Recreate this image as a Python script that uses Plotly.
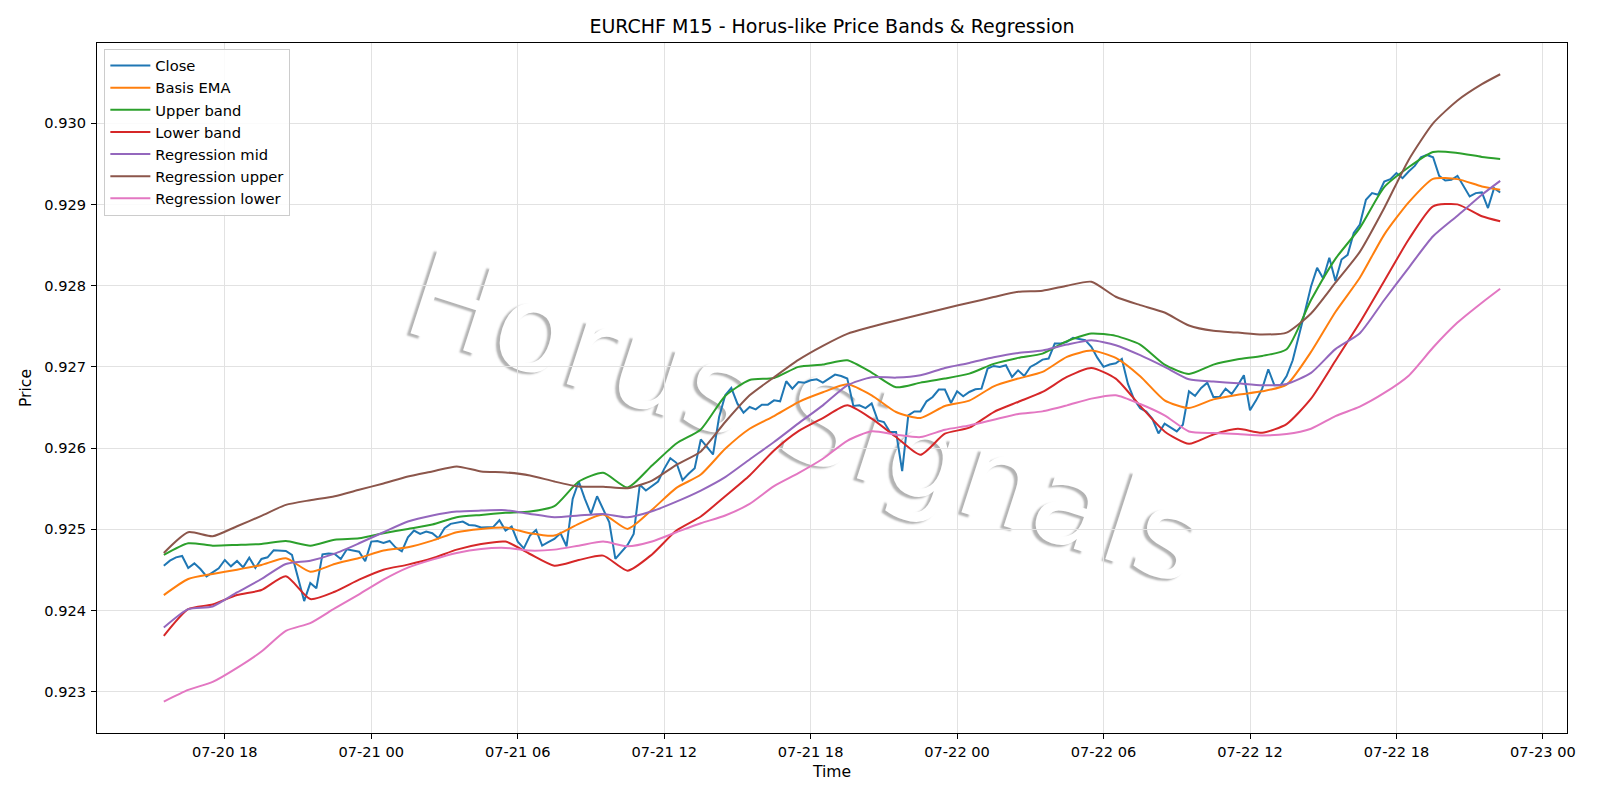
import pandas as pd
import plotly.graph_objects as go

# ---------------- data ----------------
close_times = pd.date_range("2022-07-20 15:30", periods=220, freq="15min")
band_times = list(pd.date_range("2022-07-20 15:30", "2022-07-22 21:30", freq="1h")) + [pd.Timestamp("2022-07-22 22:15")]

close = [
    0.924551, 0.924613, 0.924654, 0.924671, 0.924523, 0.924580, 0.924510, 0.924420, 0.924469, 0.924519,
    0.924621, 0.924543, 0.924609, 0.924531, 0.924650, 0.924523, 0.924634, 0.924654, 0.924741, 0.924737,
    0.924733, 0.924683, 0.924387, 0.924115, 0.924337, 0.924272, 0.924691, 0.924700, 0.924695, 0.924634,
    0.924753, 0.924737, 0.924724, 0.924605, 0.924848, 0.924856, 0.924831, 0.924856, 0.924774, 0.924728,
    0.924900, 0.924984, 0.924942, 0.924971, 0.924951, 0.924889, 0.925012, 0.925066, 0.925078, 0.925095,
    0.925053, 0.925045, 0.925021, 0.925025, 0.925029, 0.925111, 0.924984, 0.925033, 0.924848, 0.924765,
    0.924922, 0.924992, 0.924798, 0.924840, 0.924881, 0.924951, 0.924790, 0.925374, 0.925588, 0.925374,
    0.925189, 0.925407, 0.925239, 0.925086, 0.924634, 0.924716, 0.924807, 0.924942, 0.925547, 0.925477,
    0.925535, 0.925588, 0.925744, 0.925876, 0.925819, 0.925605, 0.925683, 0.925753, 0.926107, 0.926012,
    0.925921, 0.926382, 0.926650, 0.926740, 0.926547, 0.926436, 0.926506, 0.926477, 0.926535, 0.926535,
    0.926588, 0.926576, 0.926823, 0.926732, 0.926814, 0.926806, 0.926835, 0.926847, 0.926806, 0.926856,
    0.926905, 0.926888, 0.926856, 0.926518, 0.926526, 0.926493, 0.926551, 0.926341, 0.926321, 0.926197,
    0.926197, 0.925715, 0.926403, 0.926452, 0.926452, 0.926576, 0.926629, 0.926720, 0.926720, 0.926555,
    0.926699, 0.926637, 0.926691, 0.926724, 0.926732, 0.926979, 0.927012, 0.927000, 0.927020, 0.926876,
    0.926958, 0.926888, 0.927000, 0.927041, 0.927090, 0.927102, 0.927288, 0.927288, 0.927308, 0.927358,
    0.927341, 0.927329, 0.927247, 0.927111, 0.927000, 0.927029, 0.927045, 0.927098, 0.926790, 0.926600,
    0.926490, 0.926450, 0.926360, 0.926180, 0.926300, 0.926247, 0.926205, 0.926288, 0.926699, 0.926642,
    0.926740, 0.926806, 0.926629, 0.926629, 0.926732, 0.926666, 0.926773, 0.926897, 0.926465, 0.926588,
    0.926732, 0.926971, 0.926773, 0.926773, 0.926888, 0.927082, 0.927400, 0.927680, 0.927990, 0.928220,
    0.928090, 0.928344, 0.928057, 0.928323, 0.928380, 0.928650, 0.928753, 0.929059, 0.929141, 0.929121,
    0.929284, 0.929313, 0.929387, 0.929325, 0.929407, 0.929476, 0.929583, 0.929611, 0.929583, 0.929354,
    0.929297, 0.929305, 0.929354, 0.929223, 0.929100, 0.929141, 0.929149, 0.928957, 0.929202, 0.929149,
]

basis_ema = [
    0.924189, 0.924387, 0.924449, 0.924502, 0.924560, 0.924642, 0.924477, 0.924572, 0.924646, 0.924737,
    0.924778, 0.924860, 0.924963, 0.925004, 0.925021, 0.924951, 0.924922, 0.925066, 0.925181, 0.925004,
    0.925240, 0.925510, 0.925674, 0.925991, 0.926238, 0.926395, 0.926567, 0.926687, 0.926786, 0.926650,
    0.926444, 0.926370, 0.926518, 0.926584, 0.926761, 0.926856, 0.926938, 0.927123, 0.927201, 0.927110,
    0.926885, 0.926588, 0.926493, 0.926600, 0.926658, 0.926699, 0.926782, 0.927185, 0.927677, 0.928098,
    0.928630, 0.929027, 0.929317, 0.929313, 0.929223, 0.929182,
]

upper_band = [
    0.924683, 0.924827, 0.924798, 0.924807, 0.924819, 0.924856, 0.924798, 0.924872, 0.924889, 0.924951,
    0.925004, 0.925058, 0.925148, 0.925177, 0.925202, 0.925218, 0.925284, 0.925588, 0.925695, 0.925514,
    0.925785, 0.926057, 0.926230, 0.926642, 0.926839, 0.926864, 0.927000, 0.927029, 0.927082, 0.926930,
    0.926749, 0.926806, 0.926856, 0.926917, 0.927037, 0.927111, 0.927164, 0.927317, 0.927411, 0.927382,
    0.927275, 0.927028, 0.926913, 0.927028, 0.927094, 0.927135, 0.927218, 0.927823, 0.928331, 0.928712,
    0.929215, 0.929460, 0.929648, 0.929636, 0.929587, 0.929562,
]

lower_band = [
    0.923687, 0.924016, 0.924074, 0.924189, 0.924251, 0.924420, 0.924140, 0.924230, 0.924379, 0.924502,
    0.924564, 0.924642, 0.924749, 0.924819, 0.924848, 0.924695, 0.924551, 0.924621, 0.924675, 0.924490,
    0.924690, 0.924984, 0.925157, 0.925407, 0.925663, 0.925971, 0.926209, 0.926370, 0.926527, 0.926362,
    0.926136, 0.925917, 0.926177, 0.926251, 0.926444, 0.926568, 0.926691, 0.926876, 0.926987, 0.926856,
    0.926520, 0.926205, 0.926053, 0.926168, 0.926238, 0.926189, 0.926296, 0.926609, 0.927076, 0.927546,
    0.928057, 0.928569, 0.928978, 0.929002, 0.928855, 0.928793,
]

regression_mid = [
    0.923790, 0.924016, 0.924049, 0.924222, 0.924387, 0.924572, 0.924613, 0.924700, 0.924827, 0.924963,
    0.925095, 0.925169, 0.925218, 0.925230, 0.925235, 0.925189, 0.925148, 0.925169, 0.925189, 0.925148,
    0.925222, 0.925341, 0.925477, 0.925642, 0.925860, 0.926074, 0.926304, 0.926526, 0.926773, 0.926872,
    0.926868, 0.926897, 0.926987, 0.927049, 0.927119, 0.927172, 0.927201, 0.927275, 0.927329, 0.927267,
    0.927144, 0.927000, 0.926847, 0.926819, 0.926798, 0.926773, 0.926790, 0.926926, 0.927219, 0.927415,
    0.927824, 0.928221, 0.928609, 0.928863, 0.929121, 0.929292,
]

regression_upper = [
    0.924708, 0.924963, 0.924914, 0.925037, 0.925165, 0.925300, 0.925358, 0.925407, 0.925486, 0.925564,
    0.925650, 0.925712, 0.925774, 0.925712, 0.925700, 0.925663, 0.925588, 0.925527, 0.925523, 0.925506,
    0.925600, 0.925794, 0.925959, 0.926321, 0.926650, 0.926872, 0.927086, 0.927259, 0.927407, 0.927494,
    0.927572, 0.927646, 0.927720, 0.927790, 0.927860, 0.927925, 0.927938, 0.928000, 0.928049, 0.927864,
    0.927761, 0.927670, 0.927510, 0.927444, 0.927423, 0.927399, 0.927423, 0.927658, 0.928037, 0.928417,
    0.928957, 0.929550, 0.930000, 0.930282, 0.930483, 0.930605,
]

regression_lower = [
    0.922877, 0.923021, 0.923119, 0.923292, 0.923494, 0.923749, 0.923844, 0.924025, 0.924198, 0.924379,
    0.924527, 0.924626, 0.924708, 0.924757, 0.924770, 0.924737, 0.924749, 0.924798, 0.924848, 0.924790,
    0.924850, 0.924963, 0.925074, 0.925169, 0.925313, 0.925531, 0.925691, 0.925868, 0.926090, 0.926206,
    0.926165, 0.926135, 0.926226, 0.926279, 0.926349, 0.926419, 0.926452, 0.926526, 0.926609, 0.926650,
    0.926543, 0.926403, 0.926205, 0.926185, 0.926172, 0.926156, 0.926172, 0.926238, 0.926393, 0.926511,
    0.926679, 0.926892, 0.927239, 0.927546, 0.927791, 0.927963,
]

series = [
    ("Close", close_times, close, "#1f77b4", "linear"),
    ("Basis EMA", band_times, basis_ema, "#ff7f0e", "spline"),
    ("Upper band", band_times, upper_band, "#2ca02c", "spline"),
    ("Lower band", band_times, lower_band, "#d62728", "spline"),
    ("Regression mid", band_times, regression_mid, "#9467bd", "spline"),
    ("Regression upper", band_times, regression_upper, "#8c564b", "spline"),
    ("Regression lower", band_times, regression_lower, "#e377c2", "spline"),
]

FONT = "DejaVu Sans"

fig = go.Figure()
for name, xs, ys, color, shape in series:
    line = dict(color=color, width=2, shape=shape)
    if shape == "spline":
        line["smoothing"] = 0.6
    fig.add_trace(go.Scatter(x=xs, y=ys, mode="lines", name=name, line=line))

# watermark
fig.add_shape(
    type="rect", xref="x domain", yref="y domain",
    x0=0.474, x1=0.494, y0=0.459, y1=0.479,
    line=dict(width=0), fillcolor="rgba(0,0,0,0)", layer="below",
    label=dict(text="Horus Signals", textangle=18, textposition="middle center",
               font=dict(family=FONT, size=121, color="white",
                         shadow="-3px 3px 2px rgba(0,0,0,0.3)")),
)

axis_common = dict(
    showline=True, mirror=True, linecolor="black", linewidth=1,
    ticks="outside", ticklen=5, tickwidth=1, tickcolor="black",
    showgrid=True, gridcolor="#e2e2e2", gridwidth=1, zeroline=False,
    tickfont=dict(family=FONT, size=14.6, color="black"),
)

fig.update_layout(
    width=1600, height=800,
    margin=dict(l=97, r=33, t=43, b=67),
    paper_bgcolor="white", plot_bgcolor="white",
    font=dict(family=FONT, color="black"),
    title=dict(text="EURCHF M15 - Horus-like Price Bands & Regression",
               x=0.5, xref="paper", xanchor="center",
               y=1 - 26 / 800, yanchor="middle",
               font=dict(family=FONT, size=19, color="black")),
    xaxis=dict(
        type="date",
        range=["2022-07-20 12:45:45", "2022-07-23 00:59:15"],
        tick0="2022-07-20 00:00", dtick=6 * 3600 * 1000,
        tickformat="%m-%d %H",
        title=dict(text="Time", font=dict(family=FONT, size=15.6), standoff=7),
        **axis_common,
    ),
    yaxis=dict(
        range=[0.92249, 0.93099],
        tick0=0.923, dtick=0.001, tickformat=".3f",
        title=dict(text="Price", font=dict(family=FONT, size=15.6), standoff=8),
        ticklabelstandoff=2,
        **axis_common,
    ),
    legend=dict(
        x=0.005, y=0.992, xanchor="left", yanchor="top",
        bgcolor="rgba(255,255,255,0.85)", bordercolor="#cccccc", borderwidth=1,
        font=dict(family=FONT, size=14.7, color="black"),
        itemwidth=40,
    ),
    showlegend=True,
)

fig.write_html("out.html")
